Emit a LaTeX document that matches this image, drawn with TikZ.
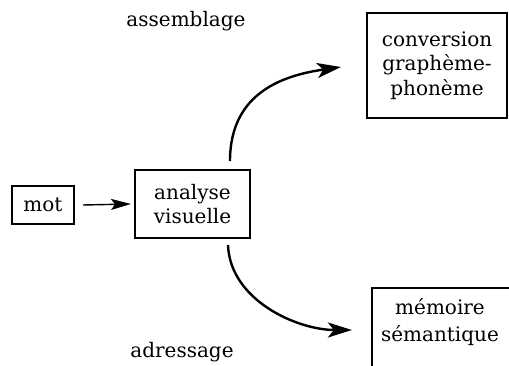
\documentclass[tikz,border=0pt]{standalone}
\usepackage{fontspec}
\setmainfont{DejaVu Serif}
\usetikzlibrary{arrows.meta}
\begin{document}
\begin{tikzpicture}[x=1pt,y=-1pt,
  font=\rmfamily\fontsize{20}{24.5}\selectfont,
  box/.style={draw,line width=2pt,align=center,inner sep=0pt},
  label/.style={inner sep=0pt},
  flow/.style={line width=2.4pt,-{Stealth[length=24pt,width=15pt,inset=6pt]}},
  feed/.style={line width=1.4pt,-{Stealth[length=20pt,width=11pt,inset=4pt]}}]
\useasboundingbox (0,0) rectangle (509,366);
% boxes
\node[box,minimum width=62pt,minimum height=38pt] (mot) at (43,205) {mot};
\node[box,minimum width=115pt,minimum height=68pt] (ana) at (192.5,204) {analyse\\visuelle};
\node[box,minimum width=140pt,minimum height=105pt] (conv) at (437,65.5) {conversion\\graphème-\\phonème};
\node[label,align=center,font=\rmfamily\fontsize{20}{27}\selectfont] (mem) at (440,322) {mémoire\\sémantique};
\draw[line width=2pt] (372,366) -- (372,288) -- (509,288);
% route labels
\node[label] (asm) at (186,21) {assemblage};
\node[label] (adr) at (182,352) {adressage};
% connectors
\draw[feed] (mot.east) ++(8,0) coordinate (m0) (m0) -- ([xshift=-3pt]ana.west);
\draw[flow] ([xshift=37.5pt,yshift=8pt]ana.north) .. controls +(0,-70) and +(-55,8) .. ([xshift=-25pt,yshift=-1.5pt]conv.west);
\draw[flow] ([xshift=35.5pt,yshift=-6pt]ana.south) .. controls +(2,55) and +(-55,0) .. ([xshift=-29pt,yshift=-8pt]mem.west);
\end{tikzpicture}
\end{document}
